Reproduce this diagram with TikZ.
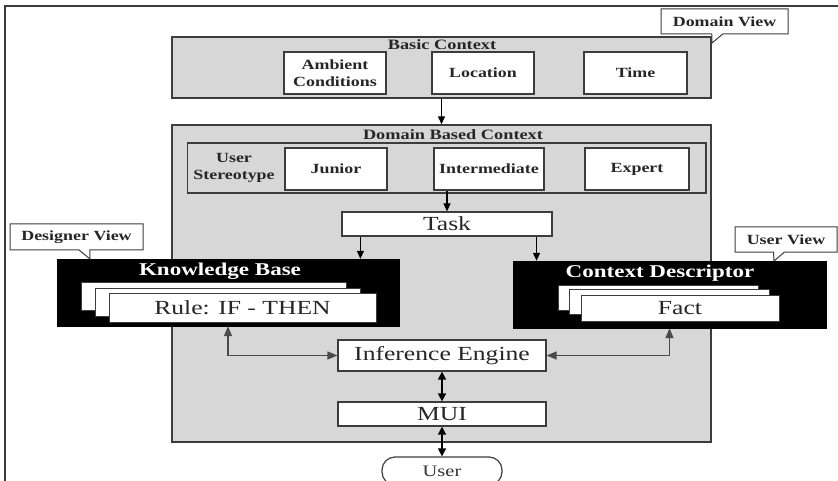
\documentclass[tikz,border=0pt]{standalone}
\usepackage{fontspec}
\setmainfont{Liberation Serif}[FakeStretch=1.28]
\usetikzlibrary{arrows.meta,calc,shapes.callouts}
\definecolor{panelGray}{HTML}{D7D7D7}
\definecolor{edgeGray}{HTML}{3C3C3C}
\definecolor{linkGray}{HTML}{4A4A4A}
\tikzset{
    panel/.style={draw=edgeGray,fill=panelGray,line width=1.4pt,inner sep=0pt},
    itembox/.style={draw=edgeGray,fill=white,line width=1.4pt,inner sep=0pt,align=center,
      text=black!85,font=\fontsize{14}{16.5}\selectfont\bfseries},
    paneltitle/.style={inner sep=0pt,text=black!85,font=\fontsize{14.3}{16}\selectfont\bfseries},
    bigbox/.style={draw=edgeGray,fill=white,line width=1.2pt,inner sep=0pt,
      text=black!85,font=\fontsize{20}{22}\selectfont},
    blackbox/.style={draw=black,fill=black,inner sep=0pt},
    boxtitle/.style={inner sep=0pt,text=white,font=\fontsize{18}{20}\selectfont\bfseries},
    card/.style={draw=edgeGray,fill=white,line width=1pt,inner sep=0pt,
      text=black!85,font=\fontsize{20}{22}\selectfont},
    viewtag/.style={rectangle callout,draw=edgeGray,fill=white,line width=1pt,inner sep=0pt,
      callout pointer width=11pt,text=black!85,font=\fontsize{14}{16}\selectfont\bfseries},
    arr/.style={line width=1.2pt,-{Triangle[length=8pt,width=7pt]}},
    darr/.style={line width=1.4pt,{Triangle[length=8pt,width=8pt]}-{Triangle[length=8pt,width=8pt]}},
    garr/.style={draw=linkGray,line width=1.4pt,
      {Triangle[length=10pt,width=8pt]}-{Triangle[length=10pt,width=8pt]}}
}

\begin{document}
\begin{tikzpicture}[x=1pt,y=-1pt]
  \useasboundingbox (0,0) rectangle (838,481);
  \clip (0,0) rectangle (838,481);
  % frame (left and top edge only)
  \draw[edgeGray,line width=1.4pt] (5,490)--(5,6)--(845,6);

  % basic context
  \node[panel,minimum width=539pt,minimum height=61pt] (basic) at (441.5,67.5) {};
  \node[paneltitle] (basictitle) at (442,45) {Basic Context};
  \node[itembox,minimum width=102pt,minimum height=42pt] (ambient) at (335,73) {Ambient\\Conditions};
  \node[itembox,minimum width=102pt,minimum height=42pt] (location) at (483,73) {Location};
  \node[itembox,minimum width=103pt,minimum height=42pt] (time) at (635.5,73) {Time};

  % domain based context
  \node[panel,minimum width=539pt,minimum height=317pt] (domain) at (441.5,283.5) {};
  \node[paneltitle] (domaintitle) at (453,135) {Domain Based Context};
  \node[draw=edgeGray,line width=1.4pt,minimum width=518.5pt,minimum height=50pt,inner sep=0pt]
    (stereo) at (446.75,168) {};
  \node[paneltitle,align=center,font=\fontsize{14}{17}\selectfont\bfseries] (stereolbl) at (234,168) {User\\Stereotype};
  \node[itembox,minimum width=102pt,minimum height=42pt] (junior) at (336,169) {Junior};
  \node[itembox,minimum width=110pt,minimum height=42pt] (inter) at (489,169) {Intermediate};
  \node[itembox,minimum width=104pt,minimum height=42pt] (expert) at (637,169) {Expert};

  \node[bigbox,minimum width=210pt,minimum height=24pt] (task) at (447,224) {Task};

  % knowledge base with stacked rules
  \node[blackbox,minimum width=342pt,minimum height=67pt] (kb) at (228,292.5) {};
  \node[boxtitle] (kbtitle) at (220,271) {Knowledge Base};
  \foreach \i/\cx/\cy in {1/213.5/296,2/228/302}
    \node[card,minimum width=265pt,minimum height=28pt] (kbc\i) at (\cx,\cy) {};
  \node[card,minimum width=267pt,minimum height=29pt] (kbc3) at (242.5,307.5) {Rule: IF - THEN};

  % context descriptor with stacked facts
  \node[blackbox,minimum width=313pt,minimum height=67pt] (cd) at (669.5,294.5) {};
  \node[boxtitle] (cdtitle) at (660,273) {Context Descriptor};
  \foreach \i/\cx/\cy in {1/658/298,2/669/302}
    \node[card,minimum width=200pt,minimum height=25pt] (cdc\i) at (\cx,\cy) {};
  \node[card,minimum width=198pt,minimum height=26pt] (cdc3) at (680,308) {Fact};

  \node[bigbox,minimum width=208pt,minimum height=31pt] (ie) at (442,355.5) {Inference Engine};
  \node[bigbox,minimum width=208pt,minimum height=24pt] (mui) at (442,414) {MUI};
  \node[draw=edgeGray,fill=white,line width=1.2pt,rounded corners=13pt,inner sep=0pt,
    minimum width=120pt,minimum height=28pt,text=black!80,font=\fontsize{16}{18}\selectfont]
    (user) at (442,471) {User};

  % view tags
  \node[viewtag,minimum width=127pt,minimum height=25pt,callout absolute pointer={(712,43)}]
    (domview) at (724.5,21.5) {Domain View};
  \node[viewtag,minimum width=133pt,minimum height=26pt,callout absolute pointer={(90,259)}]
    (desview) at (76.5,237) {Designer View};
  \node[viewtag,minimum width=102pt,minimum height=25pt,callout absolute pointer={(774,261)}]
    (usrview) at (786,239.5) {User View};

  % links
  \draw[arr] (basic) -- (domain);
  \draw[arr] (inter.south -| task.north) -- (task.north);
  \draw[arr] ($(task.south west)!0.09!(task.south east)$) coordinate (tk1) -- (tk1 |- kb.north);
  \draw[arr] ($(task.south west)!0.924!(task.south east)$) coordinate (tk2) -- (tk2 |- cd.north);
  \draw[garr] (kb.south) |- (ie.west);
  \draw[garr] (cd.south) |- (ie.east);
  \draw[darr] (ie) -- (mui);
  \draw[darr] (mui) -- (user);
\end{tikzpicture}
\end{document}
